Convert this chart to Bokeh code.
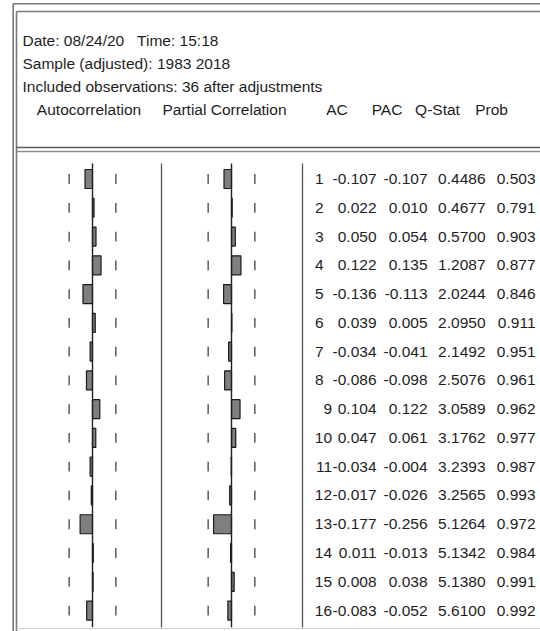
import numpy as np
from bokeh.plotting import figure
from bokeh.models import Range1d, ColumnDataSource
from bokeh.core.properties import value
from bokeh.embed import file_html
from bokeh.resources import INLINE

# ---------------- data ----------------
lags = list(range(1, 17))
ac = [-0.107, 0.022, 0.050, 0.122, -0.136, 0.039, -0.034, -0.086,
      0.104, 0.047, -0.034, -0.017, -0.177, 0.011, 0.008, -0.083]
pac = [-0.107, 0.010, 0.054, 0.135, -0.113, 0.005, -0.041, -0.098,
       0.122, 0.061, -0.004, -0.026, -0.256, -0.013, 0.038, -0.052]
q_stat = [0.4486, 0.4677, 0.5700, 1.2087, 2.0244, 2.0950, 2.1492, 2.5076,
          3.0589, 3.1762, 3.2393, 3.2565, 5.1264, 5.1342, 5.1380, 5.6100]
prob = [0.503, 0.791, 0.903, 0.877, 0.846, 0.911, 0.951, 0.961,
        0.962, 0.977, 0.987, 0.993, 0.972, 0.984, 0.991, 0.992]
n_obs = 36
NB = "\u00a0"
header_lines = ["Date: 08/24/20" + NB * 3 + "Time: 15:18",
                "Sample (adjusted): 1983 2018",
                "Included observations: 36 after adjustments"]
col_labels = ["Autocorrelation", "Partial Correlation", "AC", "PAC", "Q-Stat", "Prob"]

# ---------------- layout ----------------
FONT = "Liberation Sans"
FS = "15.5px"
TXT = "#1e1e1e"
W, H = 540, 631
X0, Y0 = 0, 0
ROW0, ROW_STEP = 178.5, 28.77
PX_PER_UNIT = 70.0
AC_ZERO, PAC_ZERO = 92.0, 231.0

p = figure(width=W, height=H, output_backend="svg", toolbar_location=None,
           x_range=Range1d(X0, X0 + W), y_range=Range1d(Y0 + H, Y0),
           x_axis_location=None, y_axis_location=None, min_border=0,
           background_fill_color="white", border_fill_color="white")
p.grid.visible = False
p.outline_line_color = None

p.extra_y_ranges = {"lag": Range1d(1 + (Y0 + H - ROW0) / ROW_STEP, 1 + (Y0 - ROW0) / ROW_STEP)}
p.extra_x_ranges = {
    "ac": Range1d((X0 - AC_ZERO) / PX_PER_UNIT, (X0 + W - AC_ZERO) / PX_PER_UNIT),
    "pac": Range1d((X0 - PAC_ZERO) / PX_PER_UNIT, (X0 + W - PAC_ZERO) / PX_PER_UNIT),
}

src = ColumnDataSource(dict(
    lag=lags, ac=ac, pac=pac,
    lag_txt=[str(l) for l in lags],
    lag_x=[323 if l < 9 else 331.5 for l in lags],
    ac_txt=[f"{v:.3f}" for v in ac],
    pac_txt=[f"{v:.3f}" for v in pac],
    q_txt=[f"{v:.4f}" for v in q_stat],
    p_txt=[f"{v:.3f}" for v in prob],
))

# ---------------- frame lines ----------------
frame_col = "#7a7a7a"
p.segment(x0=[12.7, 16], y0=[3, 11], x1=[12.7, 16], y1=[640, 640],
          line_color=frame_col, line_width=1.6)
p.segment(x0=[12.7, 16], y0=[3.3, 11], x1=[560, 560], y1=[3.3, 11],
          line_color=frame_col, line_width=1.6)
p.segment(x0=[16, 16], y0=[147, 151], x1=[560, 560], y1=[147, 151],
          line_color=["#5a5a5a", "#8a8a8a"], line_width=1.6)
p.segment(x0=[16], y0=[628], x1=[560], y1=[628], line_color="#d0d0d0", line_width=1)

# panel separators
p.segment(x0=[161, 302], y0=[163, 163], x1=[161, 302], y1=[627, 627],
          line_color="#555555", line_width=1.3)

# ---------------- bars ----------------
bar_h = 19 / ROW_STEP
for col in ("ac", "pac"):
    p.hbar(y="lag", left=0, right=col, height=bar_h, source=src,
           x_range_name=col, y_range_name="lag",
           fill_color="#7f7f7f", line_color="#1a1a1a", line_width=1.2)

# zero lines and +-2/sqrt(T) ticks
bound = 2 / np.sqrt(n_obs)
top_lag, bot_lag = lags[0] - 0.54, lags[-1] + 0.58
tick_h = 0.17
for rng in ("ac", "pac"):
    p.segment(x0=0, y0=top_lag, x1=0, y1=bot_lag, x_range_name=rng, y_range_name="lag",
              line_color="#202020", line_width=1.4)
    for s in (-1, 1):
        p.segment(x0=[s * bound] * len(lags), y0=[l - tick_h for l in lags],
                  x1=[s * bound] * len(lags), y1=[l + tick_h for l in lags],
                  x_range_name=rng, y_range_name="lag",
                  line_color="#5a5a5a", line_width=1.5)

# ---------------- text ----------------
tkw = dict(text_font=value(FONT), text_font_size=FS, text_color=TXT,
           text_baseline="middle")
p.text(x=[22] * 3, y=[39.5, 62.5, 85.5], text=header_lines, text_align="left", **tkw)
p.text(x=[88.5, 224, 336.5, 386.5, 437, 491], y=[108.5] * 6, text=col_labels,
       text_align="center", **tkw)

p.text(x="lag_x", y="lag", text="lag_txt", source=src, y_range_name="lag",
       text_align="right", **tkw)
for xr, col in ((376, "ac_txt"), (427, "pac_txt"), (485, "q_txt"), (535, "p_txt")):
    p.text(x=xr, y="lag", text=col, source=src, y_range_name="lag",
           text_align="right", **tkw)

open("out.html", "w").write(file_html(p, INLINE))
